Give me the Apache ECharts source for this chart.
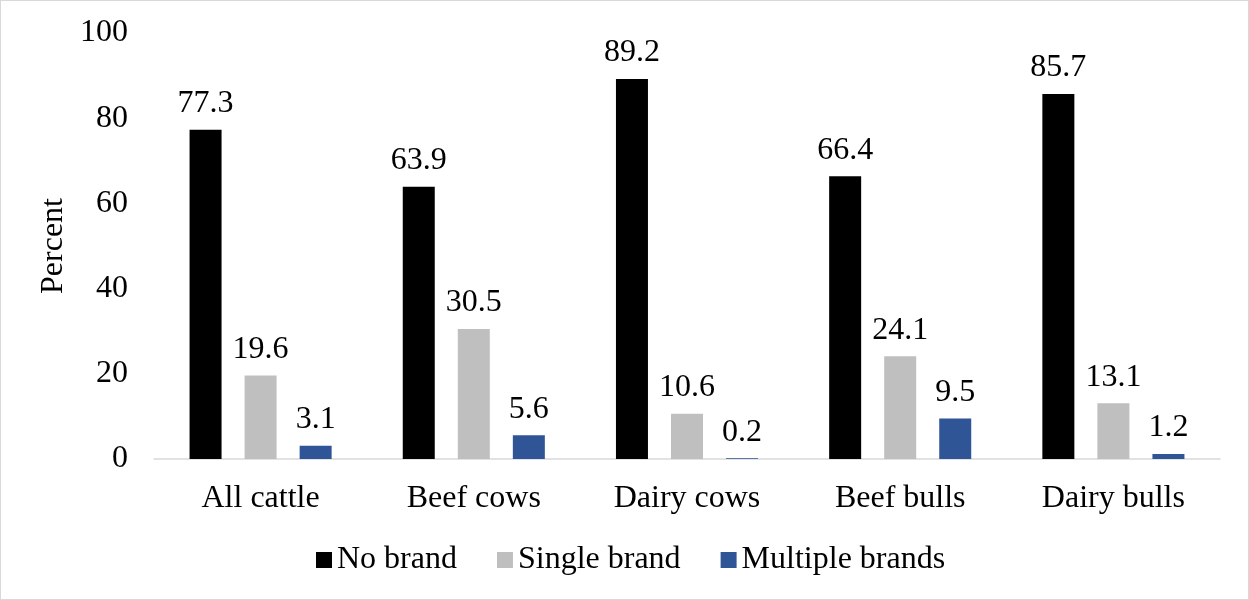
<!DOCTYPE html>
<html>
<head>
<meta charset="utf-8">
<script src="https://cdn.jsdelivr.net/npm/echarts@6/dist/echarts.min.js"></script>
<style>
  html, body { margin: 0; padding: 0; background: #fff; }
  #chart { width: 1249px; height: 600px; box-sizing: border-box; border: 1px solid #d9d9d9; }
</style>
</head>
<body>
<div id="chart"></div>
<script>
// Cattle branding status by class (percent)
const categories = ['All cattle', 'Beef cows', 'Dairy cows', 'Beef bulls', 'Dairy bulls'];
const noBrand = [77.3, 63.9, 89.2, 66.4, 85.7];
const singleBrand = [19.6, 30.5, 10.6, 24.1, 13.1];
const multipleBrands = [3.1, 5.6, 0.2, 9.5, 1.2];
const seriesNames = ['No brand', 'Single brand', 'Multiple brands'];
const seriesColors = ['#000000', '#bfbfbf', '#2f5597'];

const font = '"Liberation Serif", "Times New Roman", serif';
const fs = 32;
const chart = echarts.init(document.getElementById('chart'));

function barSeries(name, data, color) {
  return {
    name: name,
    type: 'bar',
    data: data,
    barWidth: 32,
    barGap: '72%',
    itemStyle: { color: color },
    label: {
      show: true,
      position: 'top',
      distance: 10,
      fontFamily: font,
      fontSize: fs,
      color: '#000'
    }
  };
}

chart.setOption({
  animation: false,
  textStyle: { fontFamily: font },
  grid: { left: 153, right: 28, top: 32, bottom: 140, containLabel: false },
  legend: {
    bottom: 18,
    left: 310,
    itemWidth: 16,
    itemHeight: 16,
    itemGap: 40,
    icon: 'rect',
    textStyle: { fontFamily: font, fontSize: fs, color: '#000' },
    data: seriesNames
  },
  xAxis: {
    type: 'category',
    data: categories,
    axisLine: { lineStyle: { color: '#d9d9d9', width: 1.5 } },
    axisTick: { show: false },
    axisLabel: { fontFamily: font, fontSize: fs, color: '#000', margin: 24 }
  },
  yAxis: {
    type: 'value',
    min: 0,
    max: 100,
    interval: 20,
    name: 'Percent',
    nameLocation: 'middle',
    nameGap: 82,
    nameRotate: 90,
    nameTextStyle: { fontFamily: font, fontSize: fs, color: '#000' },
    axisLine: { show: false },
    axisTick: { show: false },
    splitLine: { show: false },
    axisLabel: { fontFamily: font, fontSize: fs, color: '#000', margin: 26 }
  },
  series: [
    barSeries(seriesNames[0], noBrand, seriesColors[0]),
    barSeries(seriesNames[1], singleBrand, seriesColors[1]),
    barSeries(seriesNames[2], multipleBrands, seriesColors[2])
  ]
});
</script>
</body>
</html>
